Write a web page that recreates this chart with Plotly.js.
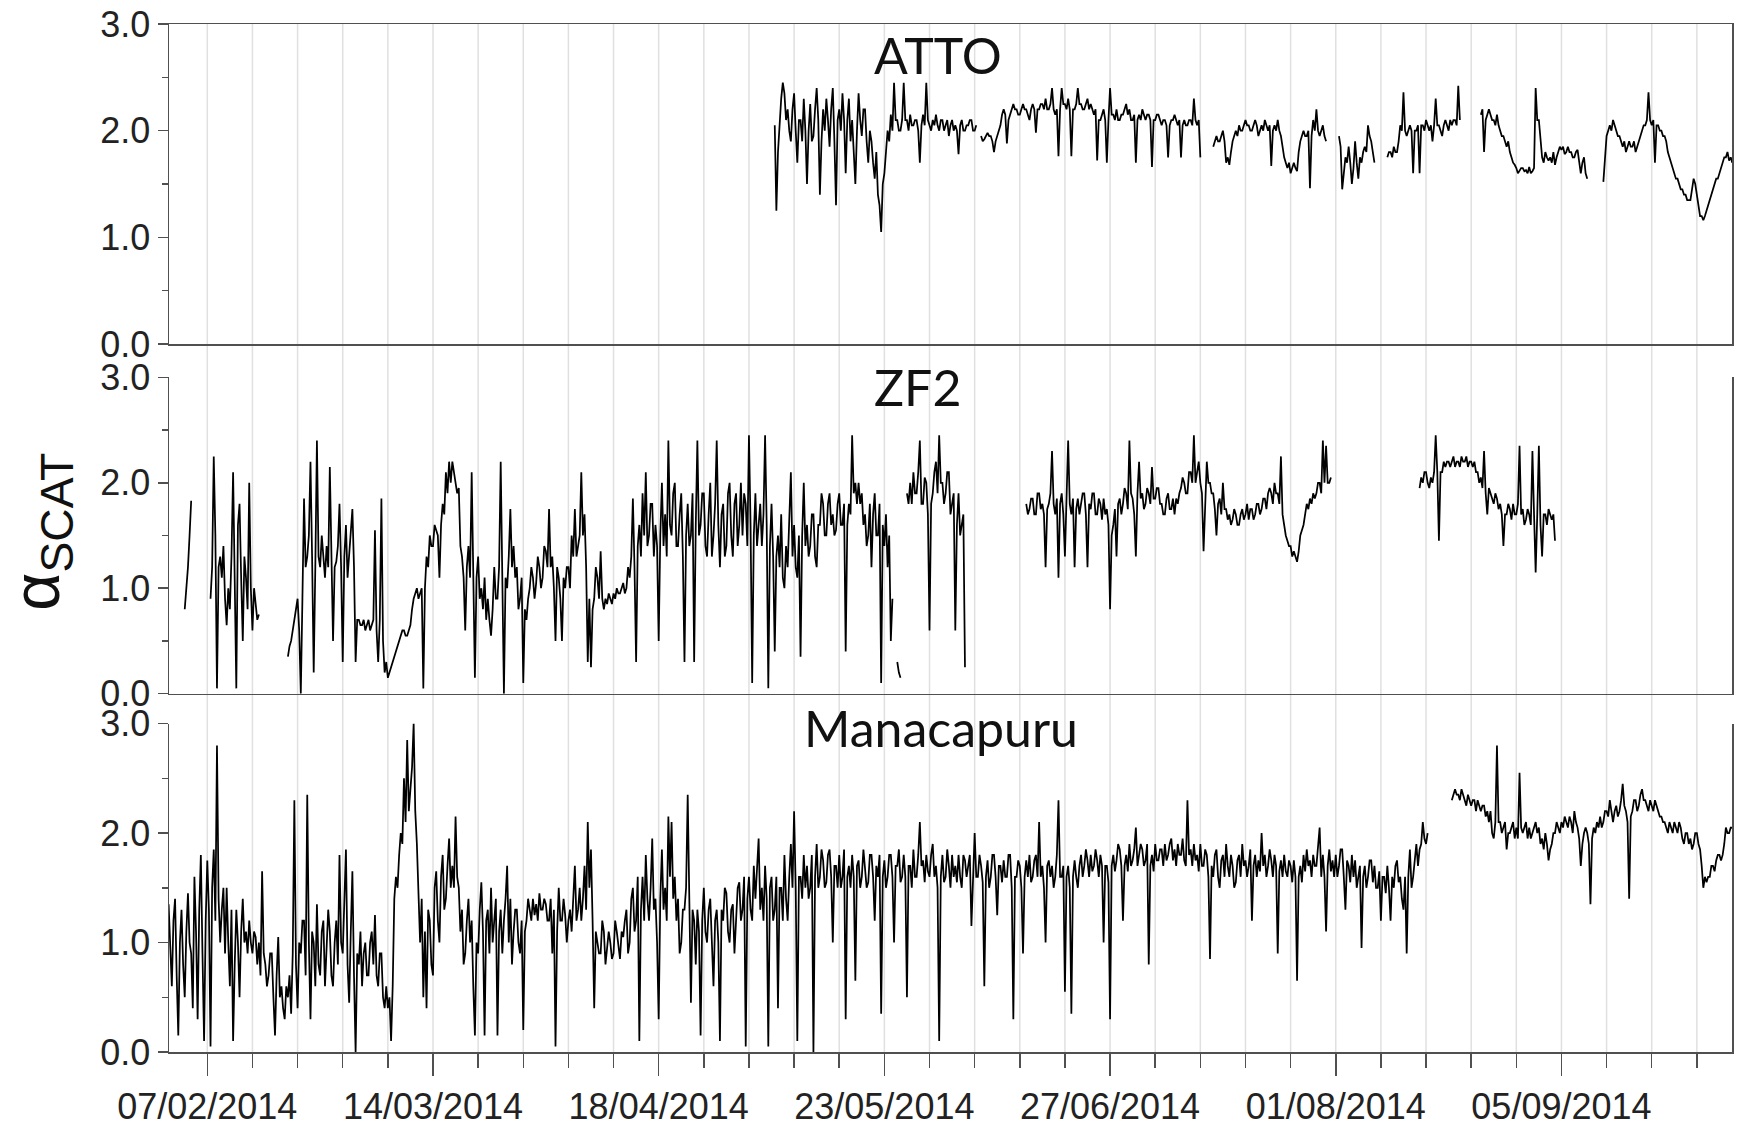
<!DOCTYPE html>
<html><head><meta charset="utf-8">
<script src="https://cdn.plot.ly/plotly-3.0.1.min.js"></script>
<style>html,body{margin:0;padding:0;background:#fff}#chart{width:1740px;height:1134px}</style>
</head><body><div id="chart"></div>
<script>
// ---------------- data (values every 6 h, day index counted from 2014-02-01) ----------------
const originDate = '2014-02-01';
const stepHours = 6;
const panelNames = ['ATTO', 'ZF2', 'Manacapuru'];
const tickLabelDates = ['2014-02-07','2014-03-14','2014-04-18','2014-05-23','2014-06-27','2014-08-01','2014-09-05'];
const tickLabels = ['07/02/2014','14/03/2014','18/04/2014','23/05/2014','27/06/2014','01/08/2014','05/09/2014'];
const yTickValues = [0, 1, 2, 3];
const yTickLabels = ['0.0', '1.0', '2.0', '3.0'];

const attoStartDay = 94;
const attoValues = [
 2.05,1.25,1.80,2.10, 2.30,2.45,2.35,2.10, 2.20,2.00,1.90,2.20, 2.35,2.00,1.70,2.10, 2.10,1.90,2.30,2.00,
 1.50,2.00,2.25,1.90, 1.95,2.20,2.40,2.10, 1.40,1.90,2.20,2.00, 2.30,2.10,1.85,2.20, 2.40,1.90,1.30,2.10,
 2.20,2.00,2.35,2.10, 1.60,2.10,2.30,1.90, 2.10,1.80,1.50,2.00, 2.35,2.10,1.95,2.20, 2.20,1.90,1.70,2.00,
 1.90,1.70,1.55,1.80, 1.40,1.30,1.05,1.50, 1.60,1.80,2.00,1.90, 2.15,2.00,2.45,2.10, 2.10,2.00,2.00,2.10,
 2.45,2.10,2.10,2.00, 2.15,2.05,2.05,2.10, 2.10,2.00,1.70,2.05, 2.15,2.05,2.45,2.10, 2.05,2.00,2.10,2.05,
 2.15,2.05,2.00,2.10, 2.10,2.00,2.05,2.10, 1.95,2.05,2.10,2.00, 2.05,2.00,1.78,2.05, 2.10,2.00,2.00,2.05,
 2.05,2.10,2.10,2.00, 2.00,2.05,null,null, 1.95,1.90,1.92,1.95, 1.98,1.95,1.95,1.90, 1.80,1.90,1.95,2.00,
 2.05,2.15,2.20,2.15, 1.88,2.10,2.15,2.20, 2.25,2.20,2.20,2.15, 2.15,2.20,2.25,2.20, 2.20,2.15,2.10,2.20,
 2.25,2.20,1.98,2.20, 2.20,2.25,2.25,2.20, 2.30,2.20,2.20,2.25, 2.40,2.20,2.15,2.20, 1.76,2.20,2.40,2.25,
 2.25,2.20,2.30,2.20, 1.76,2.20,2.20,2.25, 2.40,2.25,2.25,2.20, 2.20,2.25,2.30,2.20, 2.25,2.20,2.15,2.20,
 1.72,2.10,2.10,2.15, 2.20,2.10,1.70,2.10, 2.40,2.15,2.15,2.10, 2.20,2.10,2.10,2.15, 2.15,2.20,2.25,2.15,
 2.20,2.10,2.10,2.15, 1.70,2.10,2.15,2.10, 2.20,2.15,2.10,2.15, 2.15,2.10,1.66,2.10, 2.10,2.15,2.15,2.10,
 2.05,2.10,2.10,2.05, 1.75,2.05,2.10,2.10, 2.15,2.10,2.05,2.10, 1.75,2.05,2.10,2.05, 2.05,2.10,2.10,2.05,
 2.30,2.10,2.05,2.10, 1.75,null,null,null, null,null,null,null, 1.85,1.90,1.95,1.90, 1.90,1.95,2.00,1.90,
 1.70,1.75,1.68,1.80, 1.90,1.95,2.00,1.95, 2.05,2.00,2.00,2.05, 2.10,2.05,2.05,2.00, 2.00,2.05,2.10,2.05,
 1.95,2.00,2.05,2.00, 2.10,2.05,2.00,2.05, 1.67,2.00,2.05,2.00, 2.10,2.00,1.95,1.85, 1.75,1.70,1.65,1.70,
 1.60,1.65,1.70,1.65, 1.62,1.80,1.90,1.95, 2.00,1.95,1.95,2.00, 1.46,1.95,2.10,2.00, 2.20,2.00,1.95,2.00,
 2.05,1.95,1.90,null, null,null,null,null, null,null,1.95,1.85, 1.45,1.60,1.75,1.70, 1.85,1.70,1.50,1.65,
 1.90,1.70,1.55,1.75, 1.70,1.80,1.85,1.80, 2.05,1.95,1.90,1.80, 1.70,null,null,null, null,null,null,null,
 1.75,1.80,1.80,1.75, 1.85,1.80,1.80,1.90, 2.05,2.00,2.36,2.00, 1.95,2.00,2.05,2.00, 1.60,2.00,2.00,2.05,
 1.60,2.05,2.05,2.00, 2.10,2.05,2.00,2.05, 1.90,2.05,2.30,2.05, 2.05,2.00,1.95,2.05, 2.10,2.05,2.00,2.10,
 2.05,2.10,2.10,2.05, 2.42,2.10,null,null, null,null,null,null, null,null,null,null, null,null,2.15,2.20,
 1.80,2.10,2.15,2.20, 2.15,2.10,2.10,2.05, 2.15,2.05,2.00,1.95, 1.95,1.90,1.85,1.90, 1.80,1.75,1.70,1.68,
 1.65,1.60,1.62,1.65, 1.65,1.62,1.63,1.60, 1.66,1.60,1.62,1.65, 2.40,2.10,2.10,1.90, 1.75,1.70,1.80,1.75,
 1.72,1.75,1.70,1.80, 1.68,1.75,1.80,1.85, 1.82,1.85,1.78,1.80, 1.85,1.80,1.80,1.75, 1.75,1.80,1.82,1.70,
 1.60,1.70,1.75,1.60, 1.55,null,null,null, null,null,null,null, null,null,1.52,1.80, 1.95,2.00,2.05,2.00,
 2.10,2.05,2.00,1.95, 1.95,1.90,1.85,1.90, 1.80,1.85,1.90,1.85, 1.85,1.90,1.80,1.85, 1.90,1.95,2.00,2.05,
 2.05,2.10,2.36,2.10, 2.05,2.10,1.70,2.05, 2.05,2.00,2.00,1.95, 1.95,1.90,1.80,1.75, 1.70,1.65,1.60,1.55,
 1.55,1.50,1.45,1.45, 1.40,1.40,1.35,1.35, 1.35,1.45,1.55,1.50, 1.40,1.30,1.20,1.20, 1.16,1.20,1.25,1.30,
 1.35,1.40,1.45,1.50, 1.55,1.55,1.60,1.65, 1.70,1.75,1.75,1.80, 1.72,1.75,1.70,1.72
];

const zf2StartDay = 2;
const zf2Values = [
 null,null,0.80,1.00, 1.20,1.50,1.83,null, null,null,null,null, null,null,null,null, null,null,0.90,1.20,
 2.25,1.50,0.05,1.20, 1.30,1.10,1.40,0.90, 0.65,1.00,0.80,1.30, 2.10,1.20,0.05,1.60, 1.80,1.10,0.50,1.30,
 1.10,0.80,2.00,1.00, 0.60,1.00,0.85,0.70, 0.75,null,null,null, null,null,null,null, null,null,null,null,
 null,null,null,null, null,null,0.35,0.45, 0.50,0.60,0.70,0.80, 0.90,0.60,0.00,0.90, 1.85,1.20,1.30,1.50,
 2.20,1.30,0.20,1.20, 2.40,1.30,1.20,1.50, 1.30,1.10,1.40,1.20, 2.15,1.30,0.50,1.20, 1.25,1.40,1.80,1.20,
 0.30,1.30,1.60,1.10, 1.30,1.50,1.75,1.20, 0.30,0.70,0.70,0.65, 0.65,0.70,0.60,0.65, 0.70,0.60,0.65,0.70,
 1.55,0.60,0.30,0.70, 1.85,0.50,0.20,0.30, 0.15,0.20,0.25,0.30, 0.35,0.40,0.45,0.50, 0.55,0.60,0.60,0.55,
 0.55,0.60,0.65,0.80, 0.90,0.95,1.00,0.90, 0.95,1.00,0.05,1.00, 1.30,1.20,1.50,1.40, 1.40,1.60,1.55,1.50,
 1.10,1.60,1.80,1.70, 2.10,1.90,2.20,2.00, 2.20,2.10,2.00,1.90, 1.95,1.40,1.30,1.10, 0.60,1.20,1.40,1.10,
 2.10,1.20,0.15,1.10, 1.30,0.90,1.00,0.80, 1.10,0.70,0.90,0.70, 0.55,0.80,1.20,0.90, 0.90,1.20,2.20,1.10,
 0.00,1.10,1.00,1.30, 1.75,1.20,1.40,1.10, 1.20,0.80,0.90,1.10, 0.10,0.80,0.70,0.90, 1.00,1.20,1.10,0.90,
 1.05,1.30,1.20,1.00, 1.10,1.40,1.35,1.20, 1.75,1.20,1.30,1.00, 0.50,1.20,1.10,0.90, 0.50,1.10,1.00,1.20,
 1.20,1.00,1.50,1.30, 1.75,1.30,1.40,1.50, 2.10,1.50,1.70,1.20, 0.30,0.90,0.25,0.80, 0.90,1.20,1.10,0.90,
 1.35,0.90,0.80,0.90, 0.85,0.95,0.90,0.85, 0.95,0.90,1.00,0.95, 0.95,1.00,1.05,0.95, 1.00,1.20,1.10,1.30,
 1.85,1.20,0.30,1.40, 1.60,1.30,1.90,1.50, 2.10,1.40,1.50,1.80, 1.80,1.30,1.60,1.40, 0.50,1.50,2.00,1.40,
 1.70,1.30,2.40,1.60, 1.50,1.90,2.00,1.40, 1.40,1.70,1.90,1.30, 0.30,1.50,1.80,1.40, 1.50,1.90,0.30,1.60,
 2.40,1.50,1.60,1.90, 1.90,1.40,1.30,1.70, 2.00,1.30,1.50,1.80, 2.40,1.60,1.20,1.70, 1.80,1.30,1.40,1.90,
 2.00,1.50,1.30,1.80, 1.90,1.40,1.60,2.00, 1.50,1.90,1.80,1.40, 2.45,1.60,0.10,1.50, 1.90,1.40,1.60,1.80,
 1.40,1.70,2.45,1.60, 0.05,1.40,1.80,1.30, 0.40,1.30,1.50,1.20, 1.70,1.10,1.00,1.40, 1.20,1.60,2.10,1.30,
 1.60,1.20,1.10,1.50, 0.35,1.50,2.00,1.40, 1.60,1.30,1.40,1.70, 1.70,1.30,1.20,1.60, 1.60,1.90,1.80,1.50,
 1.50,1.80,1.90,1.60, 1.70,1.50,1.55,1.80, 1.90,1.60,1.60,1.80, 0.40,1.60,1.80,1.70, 2.45,1.90,2.00,1.80,
 2.00,1.80,1.90,1.60, 1.70,1.40,1.50,1.80, 1.20,1.70,1.90,1.50, 1.50,1.80,0.10,1.60, 1.40,1.70,1.20,1.50,
 0.50,0.90,null,null, 0.30,0.20,0.15,null, null,null,1.90,1.80, 2.00,1.80,2.10,1.90, 1.90,2.10,2.40,1.80,
 1.80,2.05,2.00,1.70, 0.60,1.80,1.90,2.10, 2.20,1.90,2.45,2.00, 2.00,1.80,1.90,2.10, 2.10,1.70,1.80,1.90,
 0.60,1.60,1.90,1.50, 1.60,1.70,0.25,null, null,null,null,null, null,null,null,null, null,null,null,null,
 null,null,null,null, null,null,null,null, null,null,null,null, null,null,null,null, null,null,null,null,
 null,null,null,null, 1.80,1.70,1.75,1.85, 1.85,1.70,1.70,1.90, 1.90,1.75,1.80,1.70, 1.20,1.75,1.80,1.90,
 2.30,1.80,1.70,1.85, 1.10,1.80,1.90,1.70, 1.30,1.90,2.40,1.80, 1.70,1.85,1.20,1.75, 1.85,1.70,1.80,1.90,
 1.90,1.70,1.20,1.80, 1.75,1.90,1.90,1.70, 1.70,1.85,1.80,1.65, 1.85,1.70,1.75,1.60, 0.80,1.50,1.60,1.75,
 1.30,1.80,1.85,1.70, 1.80,1.95,1.90,1.75, 2.40,1.90,1.85,1.70, 1.30,1.90,2.20,1.85, 1.90,1.75,1.80,1.95,
 1.90,1.80,2.15,1.85, 1.85,1.95,1.95,1.80, 1.80,1.70,1.70,1.85, 1.90,1.75,1.75,1.85, 1.70,1.85,1.80,1.90,
 1.95,2.05,2.00,1.90, 1.90,2.10,2.10,2.00, 2.45,2.00,2.10,2.20, 2.00,1.90,1.35,1.90, 2.20,2.00,2.00,1.90,
 1.90,1.75,1.50,1.80, 1.85,1.70,2.00,1.75, 1.75,1.65,1.70,1.60, 1.65,1.75,1.70,1.60, 1.60,1.70,1.75,1.65,
 1.70,1.80,1.65,1.75, 1.75,1.65,1.70,1.80, 1.80,1.70,1.75,1.85, 1.85,1.75,1.90,1.95, 1.90,1.80,2.00,1.90,
 1.90,1.80,2.25,1.70, 1.60,1.50,1.45,1.40, 1.40,1.30,1.35,1.30, 1.25,1.35,1.50,1.55, 1.60,1.70,1.80,1.75,
 1.85,1.80,1.90,1.85, 1.90,2.00,2.00,1.90, 2.40,2.00,2.35,2.00, 2.00,2.05,null,null, null,null,null,null,
 null,null,null,null, null,null,null,null, null,null,null,null, null,null,null,null, null,null,null,null,
 null,null,null,null, null,null,null,null, null,null,null,null, null,null,null,null, null,null,null,null,
 null,null,null,null, null,null,null,null, 1.95,2.05,2.00,2.10, 2.10,2.00,1.95,2.05, 2.00,2.10,2.45,2.10,
 1.45,2.10,2.10,2.20, 2.15,2.20,2.20,2.15, 2.20,2.25,2.15,2.20, 2.20,2.15,2.25,2.20, 2.20,2.25,2.15,2.20,
 2.20,2.15,2.20,2.10, 2.10,2.00,2.05,1.95, 2.30,1.90,1.70,1.95, 1.90,1.85,1.80,1.90, 1.85,1.75,1.80,1.70,
 1.40,1.70,1.70,1.80, 1.75,1.65,1.80,1.70, 1.70,1.80,2.35,1.70, 1.75,1.60,1.65,1.75, 1.70,1.60,2.30,1.70,
 1.15,1.70,2.35,1.60, 1.30,1.70,1.70,1.60, 1.75,1.70,1.65,1.70, 1.45
];

const manacapuruStartDay = 0;
const manacapuruValues = [
 1.35,0.90,0.60,1.20, 1.40,0.70,0.15,1.00, 1.30,0.80,0.50,1.10, 1.45,1.00,0.90,0.40, 1.60,1.10,0.30,1.30,
 1.80,0.90,0.10,1.20, 1.75,1.30,0.05,1.50, 1.85,1.20,2.80,1.40, 1.00,1.30,1.50,0.90, 1.50,1.00,0.60,1.30,
 0.10,0.80,1.30,1.00, 0.50,1.10,1.40,1.00, 1.10,0.90,1.20,1.00, 0.90,1.10,1.05,0.80, 1.00,0.70,1.65,0.90,
 0.80,0.60,0.70,0.90, 0.90,0.50,0.15,0.70, 1.05,0.50,0.60,0.40, 0.30,0.60,0.50,0.70, 0.35,0.90,2.30,0.80,
 0.40,1.00,0.90,1.20, 1.20,0.70,2.35,1.00, 0.30,1.10,1.00,0.60, 1.35,0.80,0.70,1.10, 1.20,0.60,0.95,1.30,
 1.10,0.70,0.60,1.00, 1.20,0.80,1.80,1.00, 0.90,1.30,1.85,0.80, 0.45,1.10,1.65,0.70, 0.00,0.90,0.80,1.10,
 0.60,0.90,1.00,0.70, 0.70,1.00,1.10,0.80, 1.25,0.70,0.60,0.90, 0.90,0.50,0.40,0.60, 0.40,0.50,0.10,0.60,
 1.40,1.60,1.50,1.80, 2.00,1.90,2.50,2.10, 2.85,2.20,2.40,2.60, 3.00,2.20,1.90,1.50, 1.00,1.40,0.50,1.10,
 0.40,1.30,1.20,0.80, 0.70,1.50,1.65,1.20, 1.00,1.60,1.80,1.30, 1.40,1.70,1.95,1.50, 1.70,1.50,2.15,1.60,
 1.50,1.10,1.30,0.80, 0.90,1.20,1.40,1.00, 1.20,0.60,0.15,1.00, 0.90,1.30,1.55,1.10, 0.15,1.20,1.30,0.90,
 1.50,1.00,1.20,1.40, 0.15,1.10,1.30,0.90, 1.20,1.40,1.70,1.00, 1.40,0.80,1.10,1.30, 1.30,1.00,0.90,1.20,
 0.20,1.10,1.20,1.40, 1.30,1.20,1.40,1.25, 1.35,1.20,1.45,1.30, 1.30,1.40,1.35,1.20, 1.20,1.40,0.90,1.30,
 0.05,1.10,1.50,1.20, 1.20,1.40,1.25,1.00, 1.20,1.30,1.10,1.40, 1.70,1.20,1.30,1.50, 1.20,1.40,1.70,1.30,
 2.10,1.50,1.85,1.20, 0.40,1.10,1.00,0.90, 0.90,1.20,1.10,0.80, 0.95,1.10,1.00,0.85, 0.90,1.20,1.10,0.95,
 0.85,1.10,1.05,1.20, 1.30,0.90,1.00,1.40, 1.50,1.10,1.20,1.60, 0.10,1.30,1.60,1.20, 1.80,1.40,1.20,1.50,
 1.95,1.30,1.40,1.00, 0.30,1.40,1.85,1.30, 1.50,1.20,2.15,1.60, 2.10,1.40,1.60,1.20, 1.40,0.90,1.00,1.30,
 1.30,1.50,2.35,1.40, 0.45,1.30,1.20,0.80, 1.30,1.10,0.15,1.20, 1.50,1.10,1.00,1.30, 1.40,1.00,0.60,1.20,
 1.30,1.00,0.10,1.30, 1.20,1.50,1.45,1.10, 1.00,1.30,1.35,0.90, 1.20,1.50,1.55,1.20, 1.30,1.60,0.05,1.40,
 1.60,1.30,1.20,1.70, 1.40,1.70,1.95,1.30, 1.50,1.20,1.70,1.40, 0.05,1.50,1.60,1.20, 1.30,1.60,0.40,1.50,
 1.50,1.20,1.80,1.40, 1.20,1.60,1.90,1.50, 2.20,1.50,0.10,1.60, 1.60,1.40,1.80,1.50, 1.70,1.40,1.50,1.80,
 0.00,1.60,1.90,1.50, 1.60,1.85,1.75,1.50, 1.55,1.80,1.85,1.60, 1.00,1.70,1.70,1.50, 1.80,1.50,1.60,1.85,
 0.30,1.60,1.70,1.50, 1.80,1.60,0.65,1.70, 1.75,1.50,1.60,1.85, 1.70,1.50,1.55,1.80, 1.80,1.60,1.20,1.70,
 1.60,1.80,0.35,1.60, 1.75,1.50,1.60,1.80, 1.80,1.60,1.00,1.70, 1.70,1.85,1.55,1.60, 1.80,1.60,0.50,1.70,
 1.70,1.50,1.85,1.60, 1.60,1.80,2.10,1.70, 1.75,1.55,1.80,1.65, 1.60,1.80,1.90,1.60, 1.70,1.50,0.10,1.60,
 1.80,1.55,1.60,1.85, 1.70,1.50,1.80,1.60, 1.70,1.55,1.80,1.60, 1.50,1.80,1.75,1.60, 1.70,1.80,1.15,1.70,
 2.00,1.60,1.60,1.80, 1.70,1.55,0.60,1.60, 1.75,1.50,1.60,1.80, 1.80,1.60,1.25,1.70, 1.70,1.55,1.75,1.60,
 1.60,1.80,1.80,1.50, 0.30,1.60,1.60,1.75, 1.70,1.50,0.90,1.60, 1.75,1.60,1.80,1.55, 1.60,1.75,1.80,1.60,
 2.10,1.60,1.70,1.50, 1.00,1.70,1.75,1.60, 1.70,1.50,1.60,1.80, 2.30,1.60,1.60,1.70, 0.55,1.60,1.70,1.50,
 0.35,1.60,1.75,1.60, 1.50,1.70,1.80,1.60, 1.70,1.85,1.75,1.60, 1.80,1.65,1.70,1.85, 1.75,1.60,1.80,1.70,
 1.00,1.70,1.70,1.55, 0.30,1.70,1.80,1.65, 1.75,1.90,1.85,1.70, 1.20,1.70,1.80,1.65, 1.90,1.70,1.75,1.85,
 2.05,1.70,1.80,1.90, 1.85,1.70,1.75,1.90, 0.80,1.70,1.80,1.65, 1.90,1.75,1.75,1.85, 1.85,1.70,1.90,1.75,
 1.80,1.90,1.95,1.75, 1.85,1.70,1.90,1.80, 1.80,1.95,1.75,1.70, 2.30,1.80,1.85,1.70, 1.90,1.75,1.80,1.65,
 1.90,1.70,1.70,1.85, 1.80,1.60,0.85,1.70, 1.60,1.80,1.85,1.60, 1.50,1.75,1.80,1.60, 1.90,1.70,1.60,1.80,
 1.70,1.50,1.55,1.75, 1.80,1.60,1.90,1.70, 1.75,1.60,1.70,1.85, 1.20,1.70,1.80,1.60, 1.75,1.65,2.00,1.70,
 1.80,1.60,1.70,1.85, 1.75,1.60,1.80,1.70, 0.90,1.65,1.75,1.60, 1.80,1.65,1.60,1.75, 1.70,1.55,1.75,1.60,
 0.65,1.60,1.70,1.55, 1.80,1.65,1.85,1.70, 1.75,1.60,1.80,1.70, 1.70,1.85,2.05,1.60, 1.80,1.60,1.10,1.70,
 1.85,1.65,1.75,1.60, 1.80,1.60,1.70,1.85, 1.85,1.60,1.30,1.75, 1.70,1.55,1.80,1.60, 1.75,1.50,1.60,1.70,
 0.95,1.60,1.70,1.50, 1.60,1.75,1.75,1.55, 1.70,1.50,1.50,1.65, 1.20,1.60,1.60,1.45, 1.70,1.50,1.20,1.60,
 1.50,1.70,1.75,1.55, 1.60,1.40,1.30,1.60, 0.90,1.60,1.85,1.50, 1.60,1.75,1.90,1.70, 1.85,1.90,2.10,1.95,
 1.90,2.00,null,null, null,null,null,null, null,null,null,null, null,null,null,null, 2.30,2.35,2.40,2.35,
 2.35,2.30,2.40,2.35, 2.30,2.25,2.35,2.30, 2.25,2.30,2.30,2.20, 2.30,2.25,2.20,2.25, 2.25,2.15,2.20,2.10,
 2.20,2.00,1.95,2.10, 2.80,2.10,2.10,2.00, 2.05,2.10,1.85,2.00, 2.00,2.05,2.10,1.95, 2.05,1.95,2.55,2.05,
 2.00,2.05,2.10,1.95, 2.05,1.95,2.00,2.05, 2.10,2.00,2.05,1.90, 1.95,1.85,2.00,1.90, 1.75,1.85,1.90,2.00,
 2.00,2.10,2.05,2.00, 2.10,2.05,2.15,2.10, 2.05,2.15,2.10,2.00, 2.20,2.10,2.05,1.95, 1.70,1.90,2.00,2.05,
 2.00,1.90,1.35,1.95, 2.05,2.00,2.10,2.05, 2.15,2.05,2.10,2.20, 2.20,2.15,2.30,2.20, 2.10,2.20,2.25,2.15,
 2.20,2.30,2.45,2.25, 2.20,2.10,1.40,2.15, 2.20,2.30,2.30,2.20, 2.25,2.35,2.40,2.30, 2.30,2.25,2.20,2.30,
 2.25,2.20,2.30,2.25, 2.20,2.15,2.15,2.10, 2.10,2.05,2.00,2.10, 2.05,2.00,2.10,2.05, 2.00,2.10,2.05,1.95,
 1.90,2.00,2.00,1.90, 1.95,1.85,1.90,2.00, 2.00,1.90,1.85,1.70, 1.50,1.60,1.55,1.60, 1.60,1.70,1.70,1.65,
 1.75,1.80,1.80,1.75, 1.80,1.90,2.05,2.00, 2.00,2.05,2.05,2.00
];

// ---------------- helpers ----------------
const HOUR = 3600000, DAY = 24 * HOUR;
const originMs = Date.parse(originDate + 'T00:00:00Z');
function toDateString(ms) { return new Date(ms).toISOString().slice(0, 19).replace('T', ' '); }
function timeAxis(startDay, values) {
  return values.map((_, i) => toDateString(originMs + startDay * DAY + i * stepHours * HOUR));
}
const axisRange = [toDateString(originMs + 0.06 * DAY), toDateString(originMs + 242.45 * DAY)];

// weekly grid / minor tick dates
const weeklyDates = [];
for (let t = Date.parse('2014-02-07T00:00:00Z'); t < originMs + 242.45 * DAY; t += 7 * DAY) weeklyDates.push(toDateString(t));

const seriesList = [
  { start: attoStartDay, values: attoValues },
  { start: zf2StartDay, values: zf2Values },
  { start: manacapuruStartDay, values: manacapuruValues }
];
const axisSuffix = ['', '2', '3'];
const traces = seriesList.map((s, i) => ({
  type: 'scatter', mode: 'lines',
  x: timeAxis(s.start, s.values), y: s.values,
  xaxis: 'x' + axisSuffix[i], yaxis: 'y' + axisSuffix[i],
  line: { color: '#000000', width: 1.75 }, connectgaps: false,
  hoverinfo: 'skip', showlegend: false
}));

const lineColor = '#505050';
const tickFont = { family: 'Liberation Sans Narrow, Liberation Sans, Arial, sans-serif', size: 36, color: '#222222' };
const yDomains = [[0.6887, 1], [0.3486, 0.6563], [0, 0.3195]];

function yAxis(i) {
  return {
    domain: yDomains[i], range: [0, 3], anchor: 'x' + axisSuffix[i],
    tickmode: 'array', tickvals: yTickValues, ticktext: yTickLabels,
    ticks: 'outside', ticklen: 10, tickwidth: 1.5, tickcolor: lineColor,
    minor: { tickmode: 'array', tickvals: [0.5, 1.5, 2.5], ticks: 'outside', ticklen: 6, tickwidth: 1.5, tickcolor: lineColor },
    showline: true, mirror: true, linecolor: lineColor, linewidth: 1.5,
    showgrid: false, zeroline: false, tickfont: tickFont, fixedrange: true
  };
}
function xAxis(i) {
  const base = {
    type: 'date', range: axisRange, anchor: 'y' + axisSuffix[i],
    showgrid: false, zeroline: false, showline: true, linecolor: lineColor, linewidth: 1.5,
    mirror: i === 0, fixedrange: true
  };
  if (i < 2) {
    return Object.assign(base, { matches: 'x3', showticklabels: false, ticks: '' });
  }
  return Object.assign(base, {
    tickmode: 'array', tickvals: tickLabelDates, ticktext: tickLabels,
    ticks: 'outside', ticklen: 22, tickwidth: 1.5, tickcolor: lineColor, tickfont: tickFont,
    minor: { tickmode: 'array', tickvals: weeklyDates, ticks: 'outside', ticklen: 14, tickwidth: 1.5, tickcolor: lineColor, showgrid: false }
  });
}

const gridShapes = weeklyDates.map(d => ({
  type: 'line', xref: 'x3', yref: 'paper', x0: d, x1: d, y0: 0, y1: 1,
  line: { color: '#e0e0e0', width: 1.5 }, layer: 'below'
}));

const titlePositions = [[0.4921, 0.9694], [0.479, 0.6469], [0.4937, 0.3152]];
const annotations = panelNames.map((name, i) => ({
  text: name, xref: 'paper', yref: 'paper', x: titlePositions[i][0], y: titlePositions[i][1],
  xanchor: 'center', yanchor: 'middle', showarrow: false,
  font: { family: 'Lato, Open Sans, sans-serif', size: 50, color: '#111111' }
}));
annotations.push({
  text: 'α<sub>SCAT</sub>', xref: 'paper', yref: 'paper', x: -0.082, y: 0.506,
  xanchor: 'center', yanchor: 'middle', textangle: -90, showarrow: false,
  font: { family: 'Liberation Sans, Arial, sans-serif', size: 66, color: '#111111' }
});

const layout = {
  width: 1740, height: 1134,
  margin: { l: 169, r: 8, t: 24, b: 82 },
  paper_bgcolor: '#ffffff', plot_bgcolor: 'rgba(0,0,0,0)',
  showlegend: false,
  xaxis: xAxis(0), xaxis2: xAxis(1), xaxis3: xAxis(2),
  yaxis: yAxis(0), yaxis2: yAxis(1), yaxis3: yAxis(2),
  shapes: gridShapes, annotations: annotations
};

Plotly.newPlot('chart', traces, layout, { staticPlot: true, displayModeBar: false });
</script>
</body></html>
